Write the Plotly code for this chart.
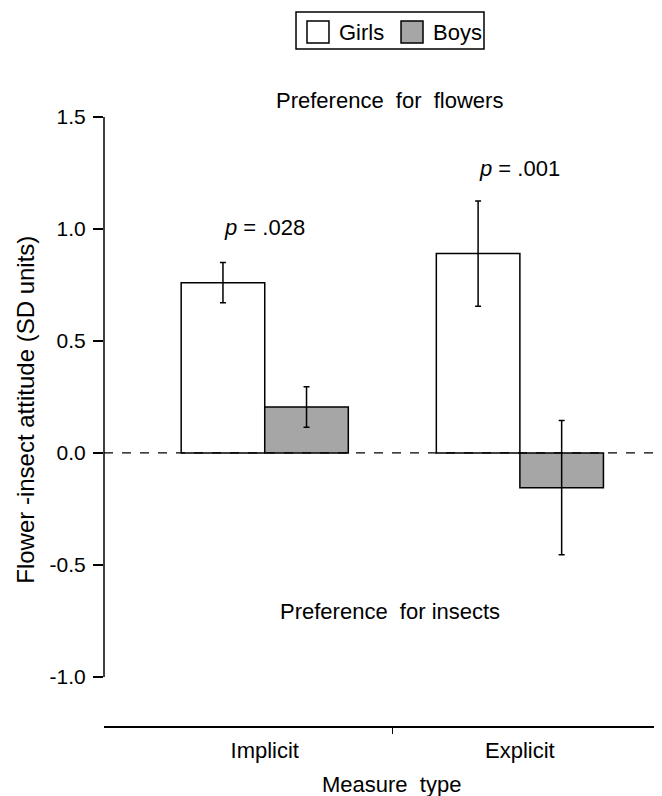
import plotly.graph_objects as go

categories = ["Implicit", "Explicit"]
cat_pos = [0, 1]
girls = [0.76, 0.89]
girls_err = [0.09, 0.235]
boys = [0.205, -0.155]
boys_err = [0.09, 0.30]
y_ticks = [-1.0, -0.5, 0.0, 0.5, 1.0, 1.5]
y_ticktext = ["-1.0", "-0.5", "0.0", "0.5", "1.0", "1.5"]
p_labels = ["<i>p</i> = .028", "<i>p</i> = .001"]
p_label_y = [1.005, 1.27]

FONT = "Liberation Sans, Arial, sans-serif"
FS = 22

fig = go.Figure()
fig.add_trace(go.Bar(
    x=cat_pos, y=girls, name="Girls", marker=dict(color="white", line=dict(color="black", width=1.5)),
    error_y=dict(type="data", array=girls_err, color="black", thickness=1.5, width=3),
    showlegend=False))
fig.add_trace(go.Bar(
    x=cat_pos, y=boys, name="Boys", marker=dict(color="#a6a6a6", line=dict(color="black", width=1.5)),
    error_y=dict(type="data", array=boys_err, color="black", thickness=1.5, width=3),
    showlegend=False))

shapes = [
    dict(type="line", xref="paper", yref="y", x0=0, x1=0, y0=y_ticks[0], y1=y_ticks[-1],
         line=dict(color="black", width=1.5)),
    dict(type="line", xref="paper", yref="y", x0=0, x1=1, y0=0, y1=0,
         line=dict(color="black", width=1.2, dash="dash")),
    # legend box
    dict(type="rect", xref="paper", yref="paper", x0=0.3441, x1=0.681, y0=1.048, y1=1.1053,
         line=dict(color="black", width=1.5), fillcolor="white"),
    dict(type="rect", xref="paper", yref="paper", x0=0.3638, x1=0.4032, y0=1.0573, y1=1.0913,
         line=dict(color="black", width=1.5), fillcolor="white"),
    dict(type="rect", xref="paper", yref="paper", x0=0.5323, x1=0.5717, y0=1.0573, y1=1.0913,
         line=dict(color="black", width=1.5), fillcolor="#a6a6a6"),
]

annotations = [
    dict(xref="paper", yref="paper", x=0.4176, y=1.0743, text="Girls", showarrow=False,
         xanchor="left", yanchor="middle", font=dict(size=FS, family=FONT, color="black")),
    dict(xref="paper", yref="paper", x=0.586, y=1.0743, text="Boys", showarrow=False,
         xanchor="left", yanchor="middle", font=dict(size=FS, family=FONT, color="black")),
    dict(x=0.49, y=1.575, text="Preference  for  flowers", showarrow=False,
         font=dict(size=FS, family=FONT, color="black")),
    dict(x=0.49, y=-0.71, text="Preference  for insects", showarrow=False,
         font=dict(size=FS, family=FONT, color="black")),
    dict(xref="paper", yref="paper", x=0.515, y=-0.091, text="Measure  type", showarrow=False,
         yanchor="middle", font=dict(size=FS, family=FONT, color="black")),
    dict(xref="paper", yref="paper", x=-0.141, y=0.49, text="Flower -insect attitude (SD units)",
         showarrow=False, textangle=-90, xanchor="center", yanchor="middle",
         font=dict(size=24, family=FONT, color="black")),
]
for xp, txt, yp in zip(cat_pos, p_labels, p_label_y):
    annotations.append(dict(x=xp, y=yp, text=txt, showarrow=False,
                            font=dict(size=FS, family=FONT, color="black")))

fig.update_layout(
    width=662, height=796,
    margin=dict(l=96, r=8, t=72, b=78),
    paper_bgcolor="white", plot_bgcolor="white",
    barmode="group", bargap=0.345, bargroupgap=0,
    font=dict(family=FONT, size=FS, color="black"),
    shapes=shapes, annotations=annotations,
    xaxis=dict(range=[-0.63, 1.557], tickmode="array", tickvals=cat_pos, ticktext=categories,
               showline=True, linecolor="black", linewidth=1.5, ticks="", showgrid=False,
               zeroline=False, ticklabelstandoff=4,
               minor=dict(tickmode="array", tickvals=[0.5], ticks="outside", ticklen=6,
                          tickcolor="black", tickwidth=1.2, showgrid=False),
               tickfont=dict(size=FS, family=FONT, color="black")),
    yaxis=dict(range=[-1.219, 1.665], tickmode="array", tickvals=y_ticks, ticktext=y_ticktext,
               showline=False, ticks="outside", ticklen=10, tickwidth=1.5, tickcolor="black",
               showgrid=False, zeroline=False, ticklabelstandoff=3,
               tickfont=dict(size=21, family=FONT, color="black")),
)

fig.write_html("out.html")
